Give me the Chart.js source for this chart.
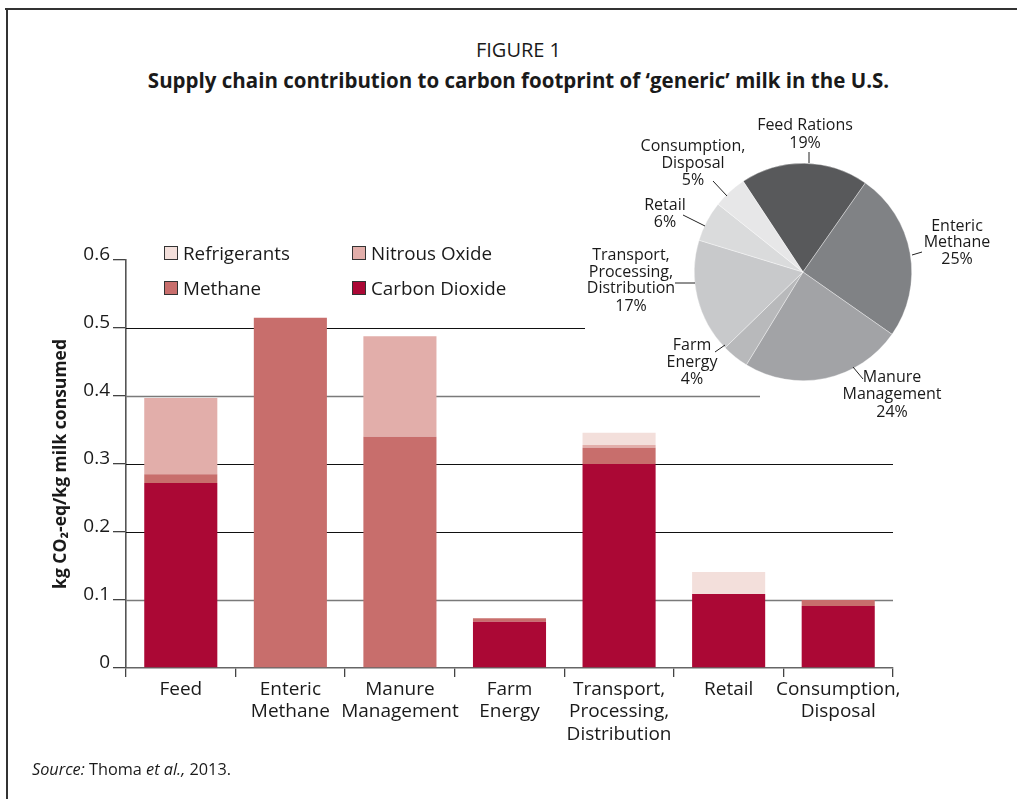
<!DOCTYPE html>
<html>
<head>
<meta charset="utf-8">
<script src="https://cdn.jsdelivr.net/npm/chart.js@4.4.1/dist/chart.umd.min.js"></script>
<style>
  html, body { margin:0; padding:0; background:#fff; }
  body { width:1017px; height:799px; position:relative; overflow:hidden; font-family:"Open Sans", sans-serif; color:#1a1a1a; }
  #frameTop { position:absolute; left:5px; top:8px; width:1012px; height:2px; background:#333; }
  #frameLeft { position:absolute; left:6px; top:8px; width:2px; height:791px; background:#333; }
  #fig { position:absolute; left:10px; width:1017px; top:36px; text-align:center; font-size:20px; }
  #title { position:absolute; left:10px; width:1017px; top:66px; text-align:center; font-size:20.5px; font-weight:bold; }
  #barCanvas { position:absolute; left:0; top:0; }
  #pieCanvas { position:absolute; left:580px; top:110px; }
  .lg { position:absolute; font-size:18.8px; display:flex; align-items:center; white-space:nowrap; }
  .lg span.box { display:inline-block; width:14px; height:14px; border:1px solid #333; margin-right:5px; box-sizing:border-box; }
  #source { position:absolute; left:32px; top:758px; font-size:16.3px; }
</style>
</head>
<body>
<div id="frameTop"></div>
<div id="frameLeft"></div>
<div id="fig">FIGURE 1</div>
<div id="title">Supply chain contribution to carbon footprint of ‘generic’ milk in the U.S.</div>
<canvas id="barCanvas" width="1017" height="799"></canvas>
<canvas id="pieCanvas" width="430" height="320"></canvas>
<div id="legend"></div>
<div id="source"><i>Source:</i> Thoma <i>et al.,</i> 2013.</div>
<script>
// ---------- DATA ----------
const categories = [
  'Feed',
  ['Enteric', 'Methane'],
  ['Manure', 'Management'],
  ['Farm', 'Energy'],
  ['Transport,', 'Processing,', 'Distribution'],
  'Retail',
  ['Consumption,', 'Disposal']
];
const carbonDioxide = [0.272, 0, 0, 0.068, 0.300, 0.109, 0.091];
const methane       = [0.013, 0.515, 0.340, 0.005, 0.024, 0, 0.009];
const nitrousOxide  = [0.112, 0, 0.148, 0, 0.004, 0, 0];
const refrigerants  = [0, 0, 0, 0, 0.018, 0.032, 0];
const yTicks = [0, 0.1, 0.2, 0.3, 0.4, 0.5, 0.6];

const pieLabels = [
  ['Feed Rations', '19%'],
  ['Enteric', 'Methane', '25%'],
  ['Manure', 'Management', '24%'],
  ['Farm', 'Energy', '4%'],
  ['Transport,', 'Processing,', 'Distribution', '17%'],
  ['Retail', '6%'],
  ['Consumption,', 'Disposal', '5%']
];
const pieShares = [19, 25, 24, 4, 17, 6, 5];

// ---------- STYLE ----------
const FONT = '"Open Sans", sans-serif';
const colCO2 = '#ab0835', colCH4 = '#c86e6c', colN2O = '#e2aeaa', colRef = '#f3dfdb';
const pieColors = ['#58595b', '#808285', '#a2a3a6', '#b8b9bb', '#c8c9cb', '#dadbdc', '#e7e7e8'];
// gridline style per value: end = pixel x where line stops (null = chart right)
const gridStyle = {
  0.1: { color: '#7a7a7a', width: 1.6, end: null },
  0.2: { color: '#111', width: 1.2, end: null },
  0.3: { color: '#111', width: 1.2, end: null },
  0.4: { color: '#7a7a7a', width: 1.6, end: 760 },
  0.5: { color: '#111', width: 1.2, end: 585 }
};
// pie label layout, relative to pie centre: leader line [x1,y1,x2,y2], text centre x, line y's
const pieLayout = [
  { line: [6, -109, 6, -120], tx: 2, ty: [-147, -129] },
  { line: [109, -17, 119, -20], tx: 154, ty: [-46, -30, -13] },
  { line: [50, 95, 60, 107], tx: 89, ty: [105, 122, 140] },
  { line: [-78, 73, -88, 80], tx: -111, ty: [73, 90, 107] },
  { line: [-108, 11, -128, 11], tx: -172, ty: [-17, 0, 16, 34] },
  { line: [-98, -46, -120, -57], tx: -138, ty: [-67, -50] },
  { line: [-76, -76, -90, -91], tx: -110, ty: [-126, -109, -92] }
];

// ---------- BAR CHART ----------
const gridPlugin = {
  id: 'partialGrid',
  beforeDatasetsDraw(chart) {
    const ctx = chart.ctx, y = chart.scales.y, area = chart.chartArea;
    ctx.save();
    yTicks.forEach(v => {
      const st = gridStyle[v];
      if (!st) return;
      const py = Math.round(y.getPixelForValue(v)) + 0.5;
      ctx.strokeStyle = st.color;
      ctx.lineWidth = st.width;
      ctx.beginPath();
      ctx.moveTo(area.left, py);
      ctx.lineTo(st.end === null ? area.right : st.end, py);
      ctx.stroke();
    });
    ctx.restore();
  }
};

const barChart = new Chart(document.getElementById('barCanvas'), {
  type: 'bar',
  data: {
    labels: categories,
    datasets: [
      { label: 'Carbon Dioxide', data: carbonDioxide, backgroundColor: colCO2 },
      { label: 'Methane', data: methane, backgroundColor: colCH4 },
      { label: 'Nitrous Oxide', data: nitrousOxide, backgroundColor: colN2O },
      { label: 'Refrigerants', data: refrigerants, backgroundColor: colRef }
    ]
  },
  options: {
    responsive: false,
    animation: false,
    devicePixelRatio: 1,
    layout: { padding: { left: 48, right: 124, top: 260, bottom: 0 } },
    datasets: { bar: { barPercentage: 0.667, categoryPercentage: 1, borderWidth: 0 } },
    plugins: { legend: { display: false }, tooltip: { enabled: false } },
    scales: {
      x: {
        stacked: true,
        afterFit(s) { s.height = 131; },
        grid: { display: true, offset: true, drawOnChartArea: false, drawTicks: true, tickLength: 9, color: '#444', lineWidth: 1.3 },
        border: { display: true, color: '#666', width: 1.6 },
        ticks: { color: '#1a1a1a', font: { family: FONT, size: 19, lineHeight: 1.16 }, padding: 2, maxRotation: 0, autoSkip: false }
      },
      y: {
        stacked: true,
        min: 0, max: 0.6,
        afterFit(s) { s.width = 78; },
        afterBuildTicks(s) { s.ticks = yTicks.map(v => ({ value: v })); },
        grid: { display: true, drawOnChartArea: false, drawTicks: true, tickLength: 13, color: '#444', lineWidth: 1.3 },
        border: { display: true, color: '#555', width: 1.6 },
        ticks: {
          color: '#1a1a1a', font: { family: FONT, size: 19 }, padding: 3, labelOffset: -5,
          callback: v => (v === 0 ? '0' : v.toFixed(1))
        },
        title: {
          display: true, text: 'kg CO₂-eq/kg milk consumed', color: '#1a1a1a',
          font: { family: FONT, size: 17.5, weight: 'bold' }, padding: { top: 3, bottom: 0 }
        }
      }
    }
  },
  plugins: [gridPlugin]
});

// HTML legend built from datasets
(function buildLegend() {
  const order = ['Refrigerants', 'Nitrous Oxide', 'Methane', 'Carbon Dioxide'];
  const pos = [[164, 240], [352, 240], [164, 275], [352, 275]];
  const host = document.getElementById('legend');
  order.forEach((name, i) => {
    const ds = barChart.data.datasets.find(d => d.label === name);
    const el = document.createElement('div');
    el.className = 'lg';
    el.style.left = pos[i][0] + 'px';
    el.style.top = pos[i][1] + 'px';
    el.innerHTML = '<span class="box" style="background:' + ds.backgroundColor + '"></span>' + ds.label;
    host.appendChild(el);
  });
})();

// ---------- PIE CHART ----------
const pieLabelPlugin = {
  id: 'pieLabels',
  afterDatasetsDraw(chart) {
    const ctx = chart.ctx;
    const meta = chart.getDatasetMeta(0);
    const cx = meta.data[0].x, cy = meta.data[0].y;
    ctx.save();
    ctx.strokeStyle = '#222';
    ctx.lineWidth = 1;
    ctx.fillStyle = '#1a1a1a';
    ctx.font = '16px ' + FONT;
    ctx.textAlign = 'center';
    ctx.textBaseline = 'middle';
    pieLayout.forEach((L, i) => {
      ctx.beginPath();
      ctx.moveTo(cx + L.line[0], cy + L.line[1]);
      ctx.lineTo(cx + L.line[2], cy + L.line[3]);
      ctx.stroke();
      chart.data.labels[i].forEach((t, k) => ctx.fillText(t, cx + L.tx, cy + L.ty[k]));
    });
    ctx.restore();
  }
};

new Chart(document.getElementById('pieCanvas'), {
  type: 'pie',
  data: {
    labels: pieLabels,
    datasets: [{ data: pieShares, backgroundColor: pieColors, borderColor: 'rgba(255,255,255,0.6)', borderWidth: 0.6 }]
  },
  options: {
    responsive: false,
    animation: false,
    devicePixelRatio: 1,
    rotation: -33.4,
    layout: { padding: { left: 114, right: 98, top: 53, bottom: 49 } },
    plugins: { legend: { display: false }, tooltip: { enabled: false } }
  },
  plugins: [pieLabelPlugin]
});
</script>
</body>
</html>
